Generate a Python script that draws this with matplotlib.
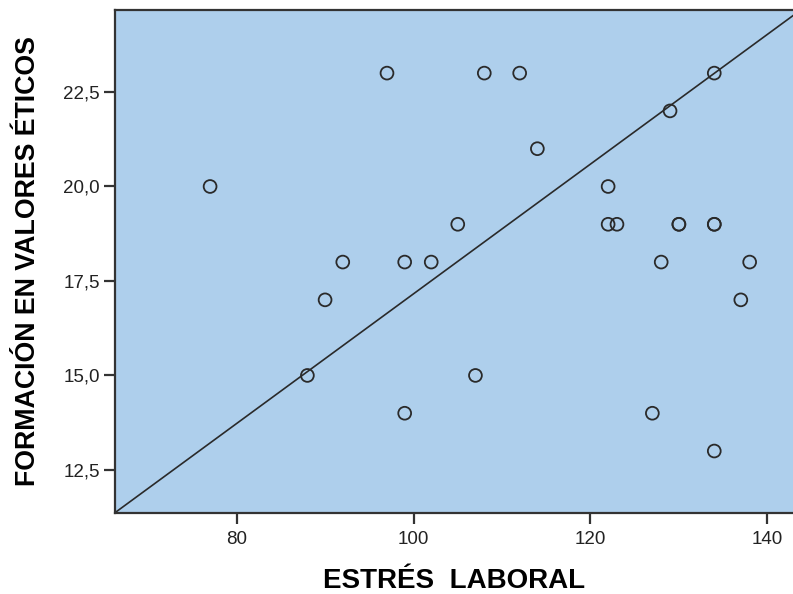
import matplotlib
matplotlib.use('Agg')
import matplotlib.pyplot as plt
import numpy as np

# Puntos (estrés laboral vs formación en valores éticos)
estres = [77, 88, 90, 92, 97, 99, 99, 102, 105, 107, 108, 112, 114,
          122, 122, 123, 127, 128, 129, 130, 130, 134, 134, 134, 134, 137, 138]
formacion = [20, 15, 17, 18, 23, 18, 14, 18, 19, 15, 23, 23, 21,
             20, 19, 19, 14, 18, 22, 19, 19, 23, 19, 19, 13, 17, 18]

# Recta de referencia
ref_slope = 0.1716
ref_intercept = 0.0

x_lim = (66.25, 142.9)
y_lim = (11.36, 24.67)
x_ticks = [80, 100, 120, 140]
y_ticks = [12.5, 15.0, 17.5, 20.0, 22.5]

plt.rcParams['font.family'] = ['Liberation Sans', 'DejaVu Sans']

fig = plt.figure(figsize=(7.93, 5.94), dpi=100)
ax = fig.add_axes([115 / 793, 81 / 594, 1 - 115 / 793, 503 / 594])
ax.set_facecolor('#aecfec')

ax.scatter(estres, formacion, s=85, facecolors='none', edgecolors='#2a2a2a',
           linewidths=1.3, zorder=3)

xs = np.array(x_lim)
ax.plot(xs, ref_intercept + ref_slope * xs, color='#2a2a2a', linewidth=1.2, zorder=2)

ax.set_xlim(*x_lim)
ax.set_ylim(*y_lim)
ax.set_xticks(x_ticks)
ax.set_yticks(y_ticks)
ax.set_yticklabels([f'{v:.1f}'.replace('.', ',') for v in y_ticks])

for side in ['left', 'bottom', 'top']:
    ax.spines[side].set_linewidth(1.6)
    ax.spines[side].set_color('#333333')
ax.spines['right'].set_visible(False)

ax.tick_params(axis='both', length=8, width=1.6, color='#333333',
               labelsize=13.5, labelcolor='#222222')
ax.tick_params(axis='x', pad=5)
ax.tick_params(axis='y', pad=3)

ax.set_xlabel('ESTRÉS  LABORAL', fontsize=20, fontweight='bold', labelpad=14)
ax.set_ylabel('FORMACIÓN EN VALORES ÉTICOS', fontsize=19.3, fontweight='bold', labelpad=16)

fig.savefig('out.png', dpi=100)
